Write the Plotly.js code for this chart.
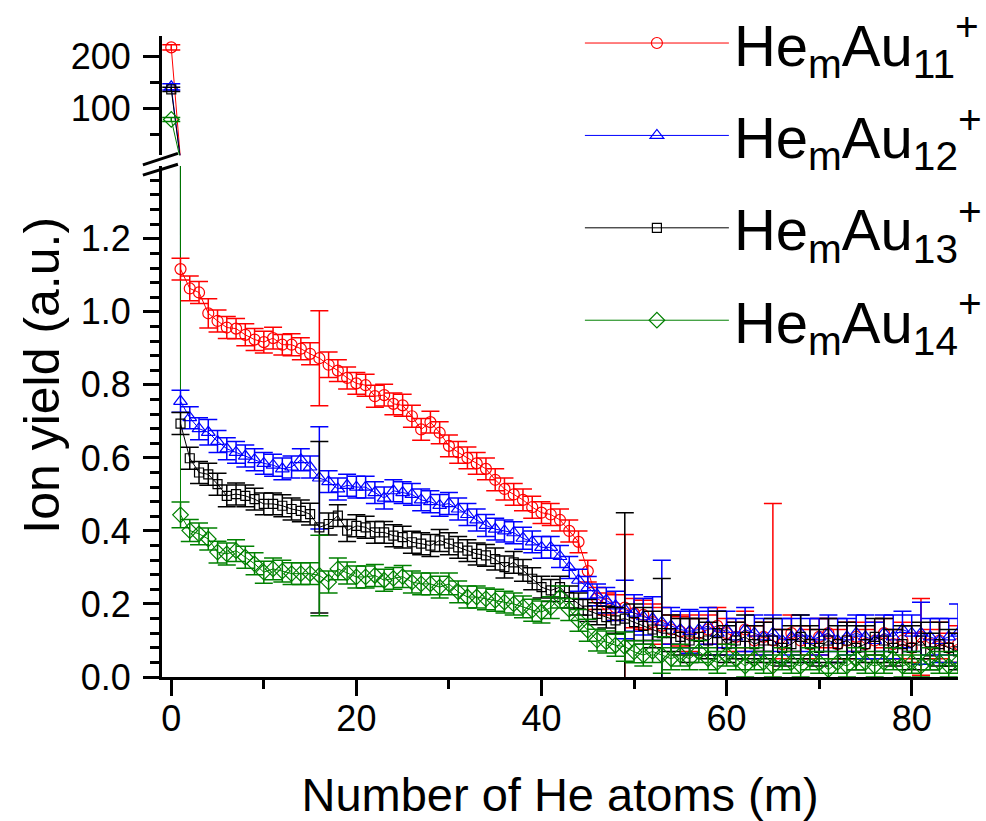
<!DOCTYPE html>
<html>
<head>
<meta charset="utf-8">
<script src="https://cdn.plot.ly/plotly-3.0.1.min.js"></script>
<style>html,body{margin:0;padding:0;background:#fff;}#chart{width:986px;height:821px;}</style>
</head>
<body>
<div id="chart"></div>
<script>
// Number of He atoms (m)
const m = [];
for (let i = 0; i <= 85; i++) m.push(i);

const seriesNames = [
  'He<sub>m</sub>Au<sub>11</sub><sup>+</sup>',
  'He<sub>m</sub>Au<sub>12</sub><sup>+</sup>',
  'He<sub>m</sub>Au<sub>13</sub><sup>+</sup>',
  'He<sub>m</sub>Au<sub>14</sub><sup>+</sup>'
];

// HemAu11+
const au11 = [218, 1.117, 1.064, 1.053, 0.996, 0.975, 0.957, 0.954, 0.937, 0.924,
  0.917, 0.928, 0.910, 0.910, 0.899, 0.885, 0.873, 0.855, 0.839, 0.819,
  0.804, 0.799, 0.769, 0.772, 0.748, 0.744, 0.714, 0.678, 0.698, 0.669,
  0.633, 0.615, 0.600, 0.585, 0.570, 0.540, 0.515, 0.500, 0.485, 0.465,
  0.450, 0.445, 0.430, 0.400, 0.370, 0.290, 0.215, 0.200, 0.190, 0.190,
  0.175, 0.170, 0.150, 0.140, 0.130, 0.125, 0.120, 0.120, 0.130, 0.140,
  0.120, 0.110, 0.130, 0.100, 0.110, 0.100, 0.090, 0.120, 0.100, 0.090,
  0.110, 0.120, 0.090, 0.100, 0.110, 0.090, 0.100, 0.120, 0.090, 0.100,
  0.080, 0.110, 0.090, 0.100, 0.080, 0.090];
const au11Err = [5, 0.030, 0.034, 0.030, 0.040, 0.030, 0.030, 0.028, 0.030, 0.030,
  0.030, 0.030, 0.028, 0.030, 0.030, 0.030, 0.130, 0.035, 0.030, 0.030,
  0.030, 0.030, 0.030, 0.030, 0.030, 0.030, 0.030, 0.030, 0.030, 0.030,
  0.030, 0.030, 0.030, 0.030, 0.030, 0.030, 0.030, 0.030, 0.030, 0.030,
  0.030, 0.030, 0.030, 0.030, 0.030, 0.030, 0.030, 0.030, 0.035, 0.200,
  0.040, 0.040, 0.050, 0.050, 0.040, 0.040, 0.050, 0.040, 0.040, 0.050,
  0.040, 0.040, 0.050, 0.040, 0.040, 0.375, 0.040, 0.050, 0.040, 0.040,
  0.050, 0.040, 0.040, 0.050, 0.040, 0.040, 0.050, 0.040, 0.040, 0.050,
  0.040, 0.105, 0.040, 0.050, 0.040, 0.050];

// HemAu12+
const au12 = [142, 0.755, 0.710, 0.680, 0.670, 0.645, 0.625, 0.615, 0.605, 0.595,
  0.585, 0.580, 0.570, 0.575, 0.595, 0.575, 0.545, 0.535, 0.515, 0.525,
  0.520, 0.520, 0.505, 0.490, 0.510, 0.505, 0.500, 0.485, 0.480, 0.470,
  0.475, 0.460, 0.445, 0.430, 0.415, 0.405, 0.400, 0.395, 0.380, 0.370,
  0.355, 0.355, 0.330, 0.300, 0.265, 0.245, 0.225, 0.210, 0.195, 0.185,
  0.175, 0.165, 0.160, 0.150, 0.140, 0.130, 0.125, 0.130, 0.140, 0.120,
  0.130, 0.110, 0.130, 0.120, 0.110, 0.120, 0.100, 0.110, 0.120, 0.100,
  0.110, 0.120, 0.100, 0.110, 0.120, 0.110, 0.100, 0.120, 0.110, 0.130,
  0.120, 0.120, 0.110, 0.100, 0.110, 0.120];
const au12Err = [6, 0.030, 0.030, 0.030, 0.035, 0.030, 0.030, 0.030, 0.030, 0.030,
  0.030, 0.030, 0.030, 0.030, 0.030, 0.030, 0.140, 0.030, 0.030, 0.030,
  0.030, 0.030, 0.030, 0.030, 0.030, 0.030, 0.030, 0.030, 0.030, 0.030,
  0.030, 0.030, 0.030, 0.030, 0.030, 0.030, 0.030, 0.030, 0.030, 0.030,
  0.030, 0.030, 0.030, 0.030, 0.030, 0.030, 0.030, 0.035, 0.040, 0.080,
  0.050, 0.050, 0.060, 0.170, 0.050, 0.050, 0.060, 0.050, 0.050, 0.060,
  0.050, 0.050, 0.060, 0.050, 0.050, 0.050, 0.060, 0.050, 0.050, 0.060,
  0.050, 0.050, 0.060, 0.050, 0.050, 0.060, 0.050, 0.050, 0.060, 0.050,
  0.050, 0.085, 0.050, 0.060, 0.050, 0.080];

// HemAu13+
const au13 = [137, 0.694, 0.599, 0.560, 0.555, 0.528, 0.496, 0.501, 0.496, 0.487,
  0.474, 0.474, 0.469, 0.460, 0.455, 0.446, 0.410, 0.419, 0.442, 0.401,
  0.414, 0.410, 0.396, 0.396, 0.387, 0.383, 0.369, 0.365, 0.360, 0.374,
  0.365, 0.355, 0.346, 0.337, 0.333, 0.323, 0.301, 0.314, 0.292, 0.269,
  0.246, 0.237, 0.246, 0.219, 0.200, 0.182, 0.173, 0.164, 0.155, 0.160,
  0.150, 0.140, 0.130, 0.120, 0.120, 0.110, 0.100, 0.110, 0.100, 0.120,
  0.090, 0.100, 0.110, 0.090, 0.100, 0.100, 0.080, 0.090, 0.110, 0.090,
  0.080, 0.100, 0.090, 0.100, 0.080, 0.090, 0.110, 0.100, 0.080, 0.090,
  0.080, 0.100, 0.070, 0.090, 0.080, 0.070];
const au13Err = [4, 0.030, 0.030, 0.030, 0.030, 0.030, 0.030, 0.030, 0.030, 0.030,
  0.030, 0.030, 0.030, 0.030, 0.030, 0.030, 0.235, 0.030, 0.030, 0.030,
  0.030, 0.030, 0.030, 0.030, 0.030, 0.030, 0.030, 0.030, 0.030, 0.030,
  0.030, 0.030, 0.030, 0.030, 0.030, 0.030, 0.030, 0.030, 0.030, 0.030,
  0.030, 0.030, 0.030, 0.030, 0.030, 0.030, 0.030, 0.030, 0.035, 0.290,
  0.050, 0.050, 0.050, 0.150, 0.050, 0.050, 0.060, 0.050, 0.050, 0.060,
  0.050, 0.050, 0.060, 0.050, 0.050, 0.060, 0.050, 0.050, 0.060, 0.050,
  0.050, 0.060, 0.050, 0.050, 0.060, 0.050, 0.050, 0.060, 0.050, 0.050,
  0.060, 0.050, 0.050, 0.060, 0.050, 0.050];

// HemAu14+
const au14 = [79, 0.444, 0.401, 0.392, 0.378, 0.342, 0.337, 0.346, 0.328, 0.310,
  0.287, 0.296, 0.290, 0.283, 0.283, 0.283, 0.278, 0.260, 0.296, 0.285,
  0.274, 0.274, 0.278, 0.265, 0.270, 0.275, 0.260, 0.255, 0.255, 0.246,
  0.255, 0.233, 0.219, 0.219, 0.214, 0.210, 0.205, 0.200, 0.192, 0.183,
  0.178, 0.190, 0.219, 0.185, 0.155, 0.128, 0.101, 0.096, 0.087, 0.083,
  0.069, 0.060, 0.070, 0.060, 0.050, 0.060, 0.050, 0.070, 0.050, 0.040,
  0.060, 0.050, 0.030, 0.050, 0.040, 0.030, 0.050, 0.040, 0.030, 0.050,
  0.040, 0.020, 0.040, 0.030, 0.050, 0.040, 0.030, 0.040, 0.050, 0.030,
  0.040, 0.030, 0.050, 0.040, 0.030, 0.040];
const au14Err = [4, 0.035, 0.030, 0.030, 0.030, 0.030, 0.030, 0.030, 0.030, 0.030,
  0.030, 0.030, 0.030, 0.030, 0.030, 0.030, 0.110, 0.030, 0.030, 0.030,
  0.030, 0.030, 0.030, 0.030, 0.030, 0.030, 0.030, 0.030, 0.030, 0.030,
  0.030, 0.030, 0.030, 0.030, 0.030, 0.030, 0.030, 0.030, 0.030, 0.030,
  0.030, 0.030, 0.030, 0.030, 0.030, 0.030, 0.030, 0.030, 0.030, 0.040,
  0.030, 0.030, 0.030, 0.050, 0.030, 0.030, 0.030, 0.030, 0.030, 0.030,
  0.030, 0.030, 0.030, 0.030, 0.030, 0.030, 0.030, 0.030, 0.030, 0.030,
  0.030, 0.030, 0.030, 0.030, 0.030, 0.030, 0.030, 0.030, 0.030, 0.030,
  0.030, 0.030, 0.030, 0.030, 0.030, 0.030];

const allY = [au11, au12, au13, au14];
const allErr = [au11Err, au12Err, au13Err, au14Err];
const colors = ['rgb(255,0,0)', 'rgb(0,0,255)', 'rgb(0,0,0)', 'rgb(0,128,0)'];
const symbols = ['circle-open', 'triangle-up-open', 'square-open', 'diamond-open'];
const sizes = [11, 12, 9, 12];

const FONT = 'Liberation Sans, Arial, Helvetica, sans-serif';
const traces = [];
// connecting lines m = 0 -> 1, drawn in both panels of the broken axis
for (let k = 0; k < 4; k++) {
  ['y', 'y2'].forEach(function (ax) {
    traces.push({
      x: m.slice(0, 2), y: allY[k].slice(0, 2), type: 'scatter', mode: 'lines',
      showlegend: false, hoverinfo: 'skip', xaxis: 'x', yaxis: ax,
      line: {color: colors[k], width: 1}
    });
  });
}
// lower panel: m >= 1
for (let k = 0; k < 4; k++) {
  traces.push({
    x: m.slice(1), y: allY[k].slice(1), type: 'scatter', mode: 'lines+markers',
    name: seriesNames[k], legendgroup: 'g' + k,
    xaxis: 'x', yaxis: 'y',
    line: {color: colors[k], width: 1},
    marker: {symbol: symbols[k], size: sizes[k], color: colors[k], line: {color: colors[k], width: 1.2}},
    error_y: {type: 'data', array: allErr[k].slice(1), visible: true,
              color: colors[k], thickness: 1.5, width: 9}
  });
}
// upper panel: m = 0
for (let k = 0; k < 4; k++) {
  traces.push({
    x: m.slice(0, 1), y: allY[k].slice(0, 1), type: 'scatter', mode: 'markers',
    name: seriesNames[k], legendgroup: 'g' + k, showlegend: false,
    xaxis: 'x', yaxis: 'y2',
    marker: {symbol: symbols[k], size: sizes[k], color: colors[k], line: {color: colors[k], width: 1.2}},
    error_y: {type: 'data', array: allErr[k].slice(0, 1), visible: true, color: colors[k], thickness: 1.5, width: 9}
  });
}

const axisCommon = {
  showline: true, linecolor: 'black', linewidth: 3, showgrid: false, zeroline: false,
  ticks: 'outside', ticklen: 16, tickwidth: 3, tickcolor: 'black',
  tickfont: {family: FONT, size: 36, color: 'black'}
};

const layout = {
  width: 986, height: 821,
  margin: {l: 162, r: 28, t: 36, b: 144, autoexpand: false},
  paper_bgcolor: 'white', plot_bgcolor: 'white',
  font: {family: FONT, color: 'black'},
  showlegend: true,
  legend: {
    x: 0.525, y: 1.058, xanchor: 'left', yanchor: 'top',
    bgcolor: 'rgba(0,0,0,0)', borderwidth: 0,
    font: {family: FONT, size: 58, color: 'black'},
    itemwidth: 144,
    tracegroupgap: 14, traceorder: 'grouped'
  },
  xaxis: Object.assign({}, axisCommon, {
    range: [-1, 85], tick0: 0, dtick: 20, anchor: 'y',
    ticklabelstandoff: -8,
    minor: {dtick: 10, tick0: 0, ticks: 'outside', ticklen: 9, tickwidth: 3, tickcolor: 'black'},
    title: {text: 'Number of He atoms (m)', font: {family: FONT, size: 47, color: 'black'}, standoff: 40}
  }),
  yaxis: Object.assign({}, axisCommon, {
    domain: [0, 0.797], range: [0, 1.399], tick0: 0, dtick: 0.2, tickformat: '.1f', anchor: 'x',
    ticklabelstandoff: 5,
    minor: {dtick: 0.04, tick0: 0, ticks: 'outside', ticklen: 9, tickwidth: 3, tickcolor: 'black'}
  }),
  yaxis2: Object.assign({}, axisCommon, {
    domain: [0.814, 1], range: [10, 240], tick0: 0, dtick: 100, anchor: 'x',
    ticklabelstandoff: 5,
    minor: {dtick: 50, tick0: 0, ticks: 'outside', ticklen: 9, tickwidth: 3, tickcolor: 'black'}
  }),
  annotations: [{
    text: 'Ion yield (a.u.)', xref: 'paper', yref: 'paper', x: 0, y: 0.47,
    xanchor: 'center', yanchor: 'middle', xshift: -120, textangle: -90, showarrow: false,
    font: {family: FONT, size: 50, color: 'black'}
  }],
  shapes: [
    {type: 'line', xref: 'paper', yref: 'paper', x0: -0.024, y0: 0.799, x1: 0.020, y1: 0.817, line: {color: 'black', width: 3}},
    {type: 'line', xref: 'paper', yref: 'paper', x0: -0.024, y0: 0.783, x1: 0.020, y1: 0.800, line: {color: 'black', width: 3}}
  ]
};

Plotly.newPlot('chart', traces, layout, {displayModeBar: false, staticPlot: true});
</script>
</body>
</html>
